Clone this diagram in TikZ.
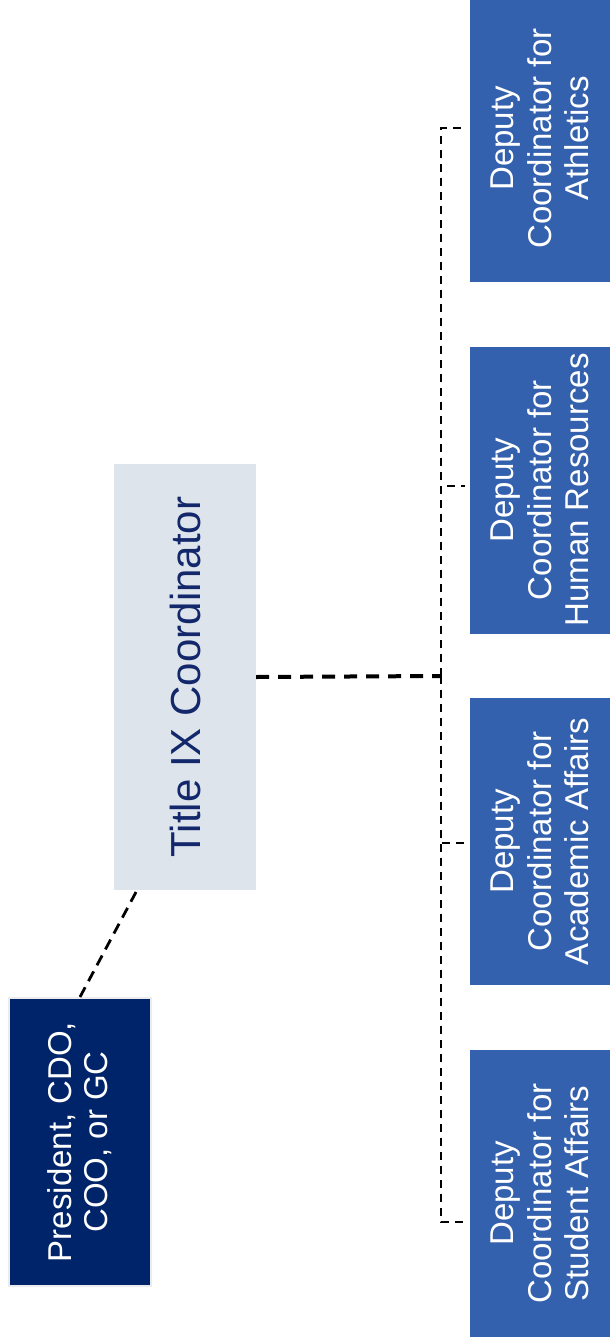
\documentclass[tikz,border=0pt]{standalone}
\usepackage{fontspec}
\setmainfont{Liberation Sans}
\usepackage{tikz}
\usetikzlibrary{positioning, calc}

\definecolor{navyblue}{HTML}{002469}
\definecolor{paleblue}{HTML}{DEE4EC}
\definecolor{titletext}{HTML}{12286B}
\definecolor{deputyblue}{HTML}{3461AE}

\begin{document}
\begin{tikzpicture}[x=1pt, y=-1pt]
				\tikzstyle{deputybox}=[rotate=90, minimum width=287pt, minimum height=140pt, fill=deputyblue, text=white, align=center, inner sep=0pt, font=\fontsize{33}{37.5}\selectfont]
				\tikzstyle{busline}=[line width=2.8pt, dash pattern=on 8pt off 6pt]
				\tikzstyle{linkline}=[line width=2.8pt, dash pattern=on 11pt off 7pt]

				\useasboundingbox (0,0) rectangle (610,1343);

				\node (pres) at (80,1142) [rotate=90, minimum width=288pt, minimum height=142pt, fill=navyblue, draw=gray!15, line width=2pt, text=white, align=center, inner sep=0pt, font=\fontsize{33}{36}\selectfont] {President, CDO,\\COO, or GC};

				\node (title) at (185,677) [rotate=90, minimum width=426pt, minimum height=142pt, fill=paleblue, text=titletext, inner sep=0pt, font=\fontsize{42}{46}\selectfont] {Title IX Coordinator};

				\node (ath) at (540,138.5) [deputybox] {Deputy\\Coordinator for\\Athletics};
				\node (hr)  at (540,490)   [deputybox] {Deputy\\Coordinator for\\Human Resources};
				\node (aca) at (540,841.5) [deputybox] {Deputy\\Coordinator for\\Academic Affairs};
				\node (stu) at (540,1193.5) [deputybox] {Deputy\\Coordinator for\\Student Affairs};

				\coordinate (bus) at (441,676);

				\draw [linkline] (pres.east) -- ([xshift=-48pt]title.west);
				\draw [line width=4pt, dash pattern=on 13pt off 9pt] (title.south) -- (bus);

				\draw [busline] (bus) |- ([yshift=10.5pt, xshift=-5pt]ath.north);
				\draw [busline] (bus) |- ([yshift=4pt, xshift=-5pt]hr.north);
				\draw [busline] (bus) |- ([yshift=-1.5pt, xshift=-5pt]aca.north);
				\draw [busline] (bus) |- ([yshift=-28.5pt, xshift=-5pt]stu.north);
\end{tikzpicture}
\end{document}
